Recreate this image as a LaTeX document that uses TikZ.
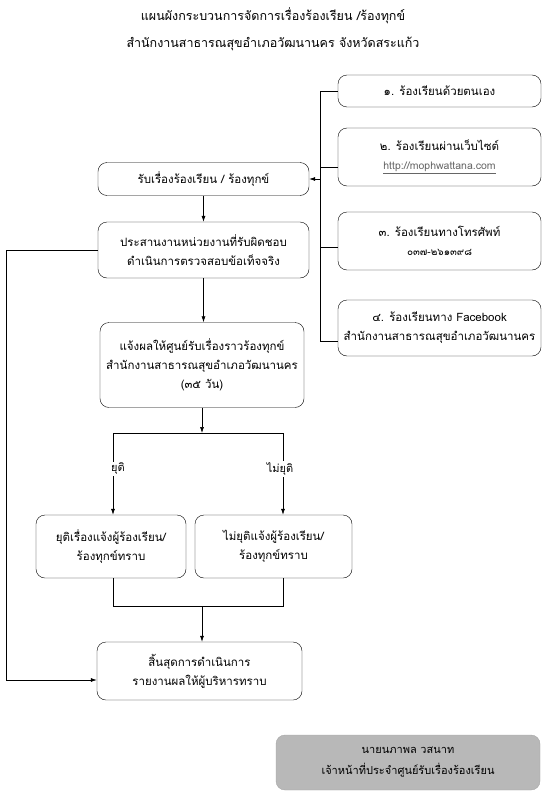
\documentclass[tikz,border=0pt]{standalone}
\usepackage{fontspec}
\setmainfont[Script=Thai]{Loma}
\usetikzlibrary{arrows.meta,positioning,calc}
\begin{document}
\begin{tikzpicture}[x=1pt,y=-1pt,
  box/.style={draw,rounded corners=9pt,align=center,inner sep=0pt,font=\fontsize{11.5}{19}\selectfont},
  arr/.style={-{Latex[length=6pt,width=4pt]},line width=0.6pt},
  ln/.style={line width=0.6pt},
  lbl/.style={font=\fontsize{11}{12}\selectfont,fill=white,inner sep=1.5pt}
]
\useasboundingbox (0,0) rectangle (546,800);
% titles
\node[font=\fontsize{12.5}{14}\selectfont] (t1) at (273,16) {แผนผังกระบวนการจัดการเรื่องร้องเรียน /ร้องทุกข์};
\node[font=\fontsize{12.5}{14}\selectfont] (t2) at (273,44) {สำนักงานสาธารณสุขอำเภอวัฒนานคร จังหวัดสระแก้ว};
% right boxes
\node[box,minimum width=203pt,minimum height=32pt] (r1) at (439.5,91) {๑. ร้องเรียนด้วยตนเอง};
\node[box,minimum width=203pt,minimum height=58pt] (r2) at (439.5,157) {๒. ร้องเรียนผ่านเว็บไซต์\\{\fontsize{10.5}{12}\selectfont\color{black!60}\underline{http://mophwattana.com}}};
\node[box,minimum width=203pt,minimum height=58pt] (r3) at (439.5,241) {๓. ร้องเรียนทางโทรศัพท์\\{\fontsize{10}{12}\selectfont ๐๓๗-๒๖๑๓๙๘}};
\node[box,minimum width=203pt,minimum height=56pt] (r4) at (439.5,328) {๔. ร้องเรียนทาง Facebook\\สำนักงานสาธารณสุขอำเภอวัฒนานคร};
% main flow
\node[box,minimum width=211pt,minimum height=33pt] (b1) at (203.5,179) {รับเรื่องร้องเรียน / ร้องทุกข์};
\node[box,minimum width=211pt,minimum height=56pt] (b2) at (203.5,250) {ประสานงานหน่วยงานที่รับผิดชอบ\\ดำเนินการตรวจสอบข้อเท็จจริง};
\node[box,minimum width=204pt,minimum height=85pt] (b3) at (202,365) {แจ้งผลให้ศูนย์รับเรื่องราวร้องทุกข์\\สำนักงานสาธารณสุขอำเภอวัฒนานคร\\(๓๕ วัน)};
\node[box,minimum width=150pt,minimum height=63pt] (b4) at (111,546.5) {ยุติเรื่องแจ้งผู้ร้องเรียน/\\ร้องทุกข์ทราบ};
\node[box,minimum width=157pt,minimum height=63pt] (b5) at (273.5,546.5) {ไม่ยุติแจ้งผู้ร้องเรียน/\\ร้องทุกข์ทราบ};
\node[box,minimum width=205pt,minimum height=58pt] (b6) at (199.5,671) {สิ้นสุดการดำเนินการ\\รายงานผลให้ผู้บริหารทราบ};
% signature box
\node[rounded corners=9pt,fill=black!28,draw=black!35,minimum width=264pt,minimum height=55pt,align=center,inner sep=0pt,font=\fontsize{11}{21}\selectfont] (sg) at (408,762.5) {นายนภาพล วสนาท\\เจ้าหน้าที่ประจำศูนย์รับเรื่องร้องเรียน};
% right collector line
\coordinate (cx1) at (320,91);
\coordinate (cx2) at (320,167);
\coordinate (cx3) at (320,247);
\coordinate (cx4) at (320,341);
\coordinate (cin) at (320,179);
\draw[ln] (r1.west) -- (cx1) -- (cx4) -- (cx4 -| r4.west);
\draw[ln] (cx2) -- (cx2 -| r2.west);
\draw[ln] (cx3) -- (cx3 -| r3.west);
\draw[arr] (cin) -- (b1.east);
% main arrows
\draw[arr] (b1.south) -- (b1.south |- b2.north);
\draw[arr] (b2.south) -- (b2.south |- b3.north);
\coordinate (sp) at (202,433);
\coordinate (spl) at (113,433);
\coordinate (spr) at (283,433);
\draw[arr] (b3.south) -- (sp);
\draw[ln] (spl) -- (spr);
\draw[arr] (spl) -- (spl |- b4.north);
\draw[arr] (spr) -- (spr |- b5.north);
\node[lbl] (l1) at (118,469) {ยุติ};
\node[lbl] (l2) at (280,469) {ไม่ยุติ};
\coordinate (jl) at (113,606);
\coordinate (jr) at (283,606);
\coordinate (jm) at (202,606);
\draw[ln] (jl |- b4.south) -- (jl) -- (jr) -- (jr |- b5.south);
\draw[arr] (jm) -- (jm |- b6.north);
% left loop
\coordinate (lo1) at (6,250);
\coordinate (lo2) at (6,680);
\draw[ln] (b2.west) -- (lo1) -- (lo2);
\draw[arr] (lo2) -- (lo2 -| b6.west);
\end{tikzpicture}
\end{document}
